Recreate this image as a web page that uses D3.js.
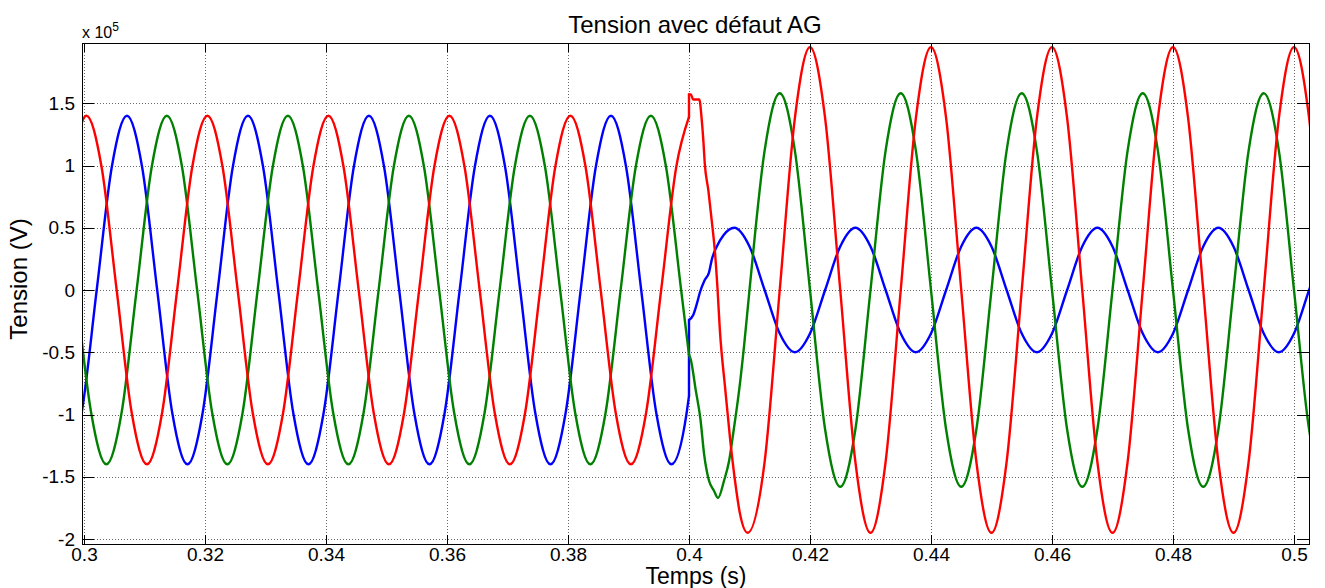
<!DOCTYPE html>
<html>
<head>
<meta charset="utf-8">
<script src="https://cdn.jsdelivr.net/npm/d3@7"></script>
<style>
body{margin:0;background:#fff}
svg{display:block;font-family:Arial,"Liberation Sans",Helvetica,sans-serif}
</style>
</head>
<body>
<svg id="chart" width="1325" height="588"></svg>
<script>
// valeurs, [temps (s), tension (x 1e5 V)]
var bluePre = [[0.2971,-1.40],[0.2996,-0.99],[0.3021,0],[0.3046,0.99],[0.3071,1.40],[0.3096,0.99],[0.3121,0],[0.3146,-0.99],
  [0.3171,-1.40],[0.3196,-0.99],[0.3221,0],[0.3246,0.99],[0.3271,1.40],[0.3296,0.99],[0.3321,0],[0.3346,-0.99],
  [0.3371,-1.40],[0.3396,-0.99],[0.3421,0],[0.3446,0.99],[0.3471,1.40],[0.3496,0.99],[0.3521,0],[0.3546,-0.99],
  [0.3571,-1.40],[0.3596,-0.99],[0.3621,0],[0.3646,0.99],[0.3671,1.40],[0.3696,0.99],[0.3721,0],[0.3746,-0.99],
  [0.3771,-1.40],[0.3796,-0.99],[0.3821,0],[0.3846,0.99],[0.3871,1.40],[0.3896,0.99],[0.3921,0],[0.3946,-0.99],
  [0.3971,-1.40],[0.3996,-0.99],[0.4,-0.85]]
var bluePost = [[0.4,-0.24],[0.4007,-0.20],[0.4013,-0.11],[0.4018,-0.02],[0.4026,0.08],[0.4033,0.14],[0.4038,0.25],
  [0.4046,0.35],[0.4057,0.44],[0.4075,0.50],[0.41,0.35],[0.4125,0],[0.415,-0.35],[0.4175,-0.50],[0.42,-0.35],
  [0.4225,0],[0.425,0.35],[0.4275,0.50],[0.43,0.35],[0.4325,0],[0.435,-0.35],[0.4375,-0.50],[0.44,-0.35],
  [0.4425,0],[0.445,0.35],[0.4475,0.50],[0.45,0.35],[0.4525,0],[0.455,-0.35],[0.4575,-0.50],[0.46,-0.35],
  [0.4625,0],[0.465,0.35],[0.4675,0.50],[0.47,0.35],[0.4725,0],[0.475,-0.35],[0.4775,-0.50],[0.48,-0.35],
  [0.4825,0],[0.485,0.35],[0.4875,0.50],[0.49,0.35],[0.4925,0],[0.495,-0.35],[0.4975,-0.50],[0.5,-0.35],
  [0.5025,0],[0.505,0.35]]

var greenPre = [[0.2987,0],[0.3012,-0.99],[0.3037,-1.40],[0.3062,-0.99],[0.3087,0],[0.3112,0.99],[0.3137,1.40],[0.3162,0.99],
  [0.3187,0],[0.3212,-0.99],[0.3237,-1.40],[0.3262,-0.99],[0.3287,0],[0.3312,0.99],[0.3337,1.40],[0.3362,0.99],
  [0.3387,0],[0.3412,-0.99],[0.3437,-1.40],[0.3462,-0.99],[0.3487,0],[0.3512,0.99],[0.3537,1.40],[0.3562,0.99],
  [0.3587,0],[0.3612,-0.99],[0.3637,-1.40],[0.3662,-0.99],[0.3687,0],[0.3712,0.99],[0.3737,1.40],[0.3762,0.99],
  [0.3787,0],[0.3812,-0.99],[0.3837,-1.40],[0.3862,-0.99],[0.3887,0],[0.3912,0.99],[0.3937,1.40],[0.3962,0.99],
  [0.3987,0],[0.4,-0.52]]
var greenPost = [[0.4,-0.52],[0.4003,-0.56],[0.4011,-0.80],[0.4019,-1.04],[0.4025,-1.32],[0.4033,-1.53],[0.4041,-1.61],
  [0.4048,-1.67],[0.4058,-1.53],[0.4066,-1.38],[0.4074,-1.12],[0.4083,-0.80],[0.4091,-0.45],[0.41,0],
  [0.4125,1.12],[0.415,1.58],[0.4175,1.12],[0.42,0],[0.4225,-1.12],[0.425,-1.58],[0.4275,-1.12],[0.43,0],
  [0.4325,1.12],[0.435,1.58],[0.4375,1.12],[0.44,0],[0.4425,-1.12],[0.445,-1.58],[0.4475,-1.12],[0.45,0],
  [0.4525,1.12],[0.455,1.58],[0.4575,1.12],[0.46,0],[0.4625,-1.12],[0.465,-1.58],[0.4675,-1.12],[0.47,0],
  [0.4725,1.12],[0.475,1.58],[0.4775,1.12],[0.48,0],[0.4825,-1.12],[0.485,-1.58],[0.4875,-1.12],[0.49,0],
  [0.4925,1.12],[0.495,1.58],[0.4975,1.12],[0.5,0],[0.5025,-1.12],[0.505,-1.58]]

var redPre = [[0.2979,0.99],[0.3004,1.40],[0.3029,0.99],[0.3054,0],[0.3079,-0.99],[0.3104,-1.40],[0.3129,-0.99],[0.3154,0],
  [0.3179,0.99],[0.3204,1.40],[0.3229,0.99],[0.3254,0],[0.3279,-0.99],[0.3304,-1.40],[0.3329,-0.99],[0.3354,0],
  [0.3379,0.99],[0.3404,1.40],[0.3429,0.99],[0.3454,0],[0.3479,-0.99],[0.3504,-1.40],[0.3529,-0.99],[0.3554,0],
  [0.3579,0.99],[0.3604,1.40],[0.3629,0.99],[0.3654,0],[0.3679,-0.99],[0.3704,-1.40],[0.3729,-0.99],[0.3754,0],
  [0.3779,0.99],[0.3804,1.40],[0.3829,0.99],[0.3854,0],[0.3879,-0.99],[0.3904,-1.40],[0.3929,-0.99],[0.3954,0],
  [0.3979,0.99],[0.4,1.39]]
var redPost = [[0.4,1.57],[0.4003,1.57],[0.4007,1.53],[0.4017,1.53],[0.4021,1.37],[0.4024,1.18],[0.4026,1.02],
  [0.4032,0.80],[0.4038,0.54],[0.4043,0.30],[0.4047,0.02],[0.4051,-0.32],[0.4060,-0.80],[0.4068,-1.20],
  [0.4076,-1.53],[0.4084,-1.79],[0.4097,-1.95],[0.4125,-1.38],[0.415,0],[0.4175,1.38],[0.42,1.95],
  [0.4225,1.38],[0.425,0],[0.4275,-1.38],[0.43,-1.95],[0.4325,-1.38],[0.435,0],[0.4375,1.38],[0.44,1.95],
  [0.4425,1.38],[0.445,0],[0.4475,-1.38],[0.45,-1.95],[0.4525,-1.38],[0.455,0],[0.4575,1.38],[0.46,1.95],
  [0.4625,1.38],[0.465,0],[0.4675,-1.38],[0.47,-1.95],[0.4725,-1.38],[0.475,0],[0.4775,1.38],[0.48,1.95],
  [0.4825,1.38],[0.485,0],[0.4875,-1.38],[0.49,-1.95],[0.4925,-1.38],[0.495,0],[0.4975,1.38],[0.5,1.95],
  [0.5025,1.38],[0.505,0]]

var xTicks = [0.3,0.32,0.34,0.36,0.38,0.4,0.42,0.44,0.46,0.48,0.5]
var yTicks = [-2,-1.5,-1,-0.5,0,0.5,1,1.5]
var xLim = [0.29967,0.50248]
var yLim = [-2.04,1.984]

var titleText = "Tension avec défaut AG"
var xLabel = "Temps (s)"
var yLabel = "Tension (V)"

var m = {l:82, r:1309, t:43, b:544}
var fontFamily = 'Arial,"Liberation Sans",Helvetica,sans-serif'

var svg = d3.select("#chart")

var x = d3.scaleLinear().domain(xLim).range([m.l,m.r])
var y = d3.scaleLinear().domain(yLim).range([m.b,m.t])

// grille en pointillés
var grid = svg.append("g").attr("stroke","#6a6a6a").attr("stroke-width",1).attr("stroke-dasharray","1,2")
  .attr("shape-rendering","crispEdges")
grid.selectAll(".gx").data(xTicks).enter().append("line").attr("class","gx")
  .attr("x1",function(d){return Math.round(x(d))+0.5}).attr("x2",function(d){return Math.round(x(d))+0.5})
  .attr("y1",m.t).attr("y2",m.b)
grid.selectAll(".gy").data(yTicks).enter().append("line").attr("class","gy")
  .attr("y1",function(d){return Math.round(y(d))+0.5}).attr("y2",function(d){return Math.round(y(d))+0.5})
  .attr("x1",m.l).attr("x2",m.r)

svg.append("clipPath").attr("id","clip").append("rect")
  .attr("x",m.l).attr("y",m.t).attr("width",m.r-m.l).attr("height",m.b-m.t)

var series = [
  {color:"#0000ff", pre:bluePre, post:bluePost},
  {color:"#008000", pre:greenPre, post:greenPost},
  {color:"#ff0000", pre:redPre, post:redPost}
]

var curve = d3.line().x(function(d){return x(d[0])}).y(function(d){return y(d[1])}).curve(d3.curveMonotoneX)
var straight = d3.line().x(function(d){return x(d[0])}).y(function(d){return y(d[1])})

var lines = svg.append("g").attr("clip-path","url(#clip)").attr("fill","none")
  .attr("stroke-width",2.4).attr("stroke-linejoin","round").attr("stroke-linecap","round")
series.forEach(function(s){
  var g = lines.append("g").attr("stroke",s.color)
  g.append("path").attr("d",curve(s.pre))
  g.append("path").attr("d",straight([s.pre[s.pre.length-1],s.post[0]]))
  g.append("path").attr("d",curve(s.post))
})

// axes façon matlab : graduations vers l'intérieur
function styleAxis(g){
  g.select(".domain").remove()
  g.attr("font-family",fontFamily).attr("font-size",19)
  g.selectAll("text").attr("fill","#000")
  g.selectAll(".tick line").attr("stroke","#000").attr("shape-rendering","crispEdges")
}
svg.append("g").attr("transform","translate(0,"+m.b+")")
  .call(d3.axisBottom(x).tickValues(xTicks).tickSize(-9).tickSizeOuter(0).tickPadding(4).tickFormat(function(d){return String(d)}))
  .call(styleAxis)
svg.append("g").attr("transform","translate(0,"+m.t+")")
  .call(d3.axisTop(x).tickValues(xTicks).tickSize(-9).tickSizeOuter(0).tickFormat(""))
  .call(styleAxis)
svg.append("g").attr("transform","translate("+m.l+",0)")
  .call(d3.axisLeft(y).tickValues(yTicks).tickSize(-12).tickSizeOuter(0).tickPadding(7).tickFormat(function(d){return String(d)}))
  .call(styleAxis)
svg.append("g").attr("transform","translate("+m.r+",0)")
  .call(d3.axisRight(y).tickValues(yTicks).tickSize(-12).tickSizeOuter(0).tickFormat(""))
  .call(styleAxis)

svg.append("rect").attr("x",m.l+0.5).attr("y",m.t+0.5).attr("width",m.r-m.l).attr("height",m.b-m.t)
  .attr("fill","none").attr("stroke","#000").attr("stroke-width",1.3).attr("shape-rendering","crispEdges")

// textes
svg.append("text").attr("x",695).attr("y",33).attr("text-anchor","middle")
  .attr("font-size",24).text(titleText)
var expo = svg.append("text").attr("x",m.l).attr("y",38).attr("font-size",16)
expo.append("tspan").text("x 10")
expo.append("tspan").attr("font-size",12).attr("dy",-7).text("5")
svg.append("text").attr("x",696).attr("y",584).attr("text-anchor","middle")
  .attr("font-size",23).text(xLabel)
svg.append("text").attr("transform","translate(27,279) rotate(-90)").attr("text-anchor","middle")
  .attr("font-size",24).text(yLabel)
</script>
</body>
</html>
